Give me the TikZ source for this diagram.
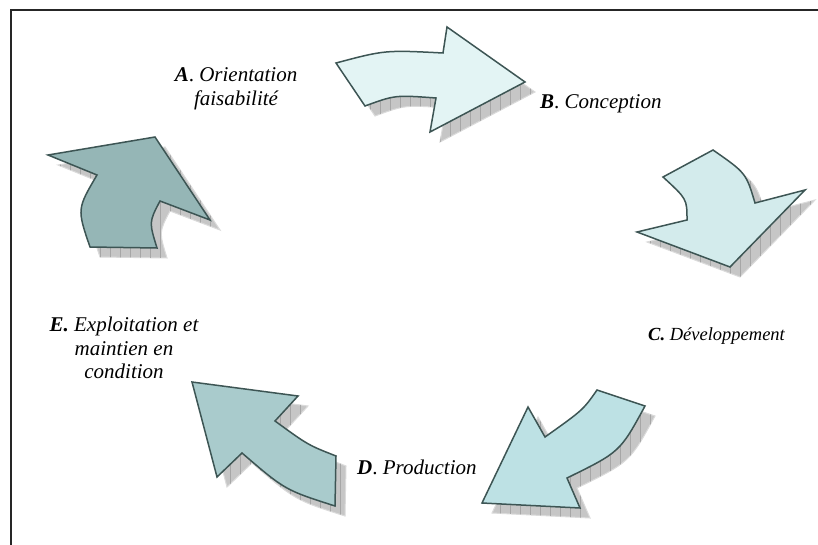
\documentclass[tikz,border=0pt]{standalone}
\usepackage{fontspec}
\setmainfont{Liberation Serif}
\begin{document}
\begin{tikzpicture}[x=1pt,y=-1pt,
  arrowbody/.style={draw=edgecol, line width=1.5pt, line join=miter},
  shadowfill/.style={fill=gray!45, draw=gray!28, line width=1pt},
  gridline/.style={draw=gray!70, line width=0.7pt},
  lbl/.style={inner sep=0pt, font=\fontsize{21}{23.5}\selectfont\itshape}]
\definecolor{edgecol}{HTML}{3D5554}
\definecolor{colAB}{HTML}{E3F4F4}
\definecolor{colBC}{HTML}{D3EBEC}
\definecolor{colCD}{HTML}{BDE1E4}
\definecolor{colDE}{HTML}{A9CBCC}
\definecolor{colEA}{HTML}{95B6B6}
\useasboundingbox (0,0) rectangle (818,545);
\fill[white] (0,0) rectangle (818,545);

% outline of each block arrow
\newcommand\shapeAB{(336,63) .. controls (385,50) .. (443,53) -- (447,27) -- (525,82) -- (430,132) -- (436,98) .. controls (395,95) .. (365,106) -- cycle}
\newcommand\shapeBC{(663,177) -- (713,150) .. controls (746,173) .. (755,203) -- (805,190) -- (730,267) -- (637,232) -- (687,220) .. controls (687,199) .. (663,177) -- cycle}
\newcommand\shapeCD{(597,390) -- (645,406) .. controls (620,452) .. (567,478) -- (580,508) -- (482,503) -- (528,407) -- (545,437) .. controls (583,410) .. (597,390) -- cycle}
\newcommand\shapeDE{(192,382) -- (298,396) -- (275,421) .. controls (308,445) .. (336,456) -- (335,506) .. controls (285,490) .. (242,453) -- (217,477) -- cycle}
\newcommand\shapeEA{(48,155) -- (155,137) -- (210,220) -- (160,201) .. controls (149,222) .. (157,248) -- (90,247) .. controls (77,209) .. (97,175) -- cycle}

% hatched drop shadow under a shape
\newcommand\dropshadow[1]{%
  \begin{scope}[shift={(10,10)}]
    \fill[shadowfill] #1;
    \begin{scope}
      \clip #1;
      \draw[gridline, step=10] (0,0) grid (818,545);
    \end{scope}
  \end{scope}}

\dropshadow{\shapeAB}
\dropshadow{\shapeBC}
\dropshadow{\shapeCD}
\dropshadow{\shapeDE}
\dropshadow{\shapeEA}

\path[arrowbody, fill=colAB] \shapeAB;
\path[arrowbody, fill=colBC] \shapeBC;
\path[arrowbody, fill=colCD] \shapeCD;
\path[arrowbody, fill=colDE] \shapeDE;
\path[arrowbody, fill=colEA] \shapeEA;

% frame
\coordinate (fb) at (11,545);
\coordinate (fc) at (11,10);
\coordinate (fr) at (818,10);
\draw[line width=1.6pt, black!85] (fb) -- (fc) -- (fr);

% stage labels
\node[lbl, align=center] (la) at (236,89) {\textbf{A}\upshape.\itshape{} Orientation\\faisabilité};
\node[lbl, anchor=west] (lb) at (540,104) {\textbf{B}\upshape.\itshape{} Conception};
\node[lbl, anchor=west, font=\fontsize{18.5}{21}\selectfont\itshape] (lc) at (648,336) {\textbf{C.} Développement};
\node[lbl, anchor=west] (ld) at (357,467) {\textbf{D}\upshape.\itshape{} Production};
\node[lbl, align=center] (le) at (124,348) {\textbf{E.} Exploitation et\\maintien en\\condition};
\end{tikzpicture}
\end{document}
